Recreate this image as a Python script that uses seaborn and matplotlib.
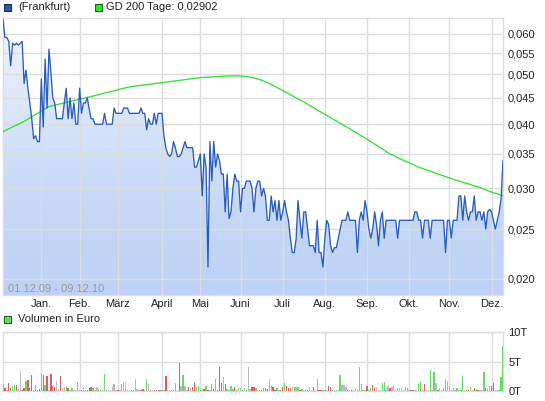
import numpy as np
import pandas as pd
import matplotlib
matplotlib.use("Agg")
import matplotlib.pyplot as plt
from matplotlib.colors import LinearSegmentedColormap
from matplotlib.patches import Rectangle
from matplotlib.ticker import FixedLocator, FuncFormatter, NullLocator
import seaborn as sns

# Handelstage 01.12.09 - 09.12.10 (Frankfurt, ohne Feiertage)
holidays = ["2009-12-24", "2009-12-25", "2009-12-31", "2010-01-01",
            "2010-04-02", "2010-04-05"]

# Schlusskurse (EUR), ein Wert je Handelstag
price = [
    0.064, 0.059, 0.059, 0.058, 0.052, 0.0575, 0.057, 0.0575, 0.057, 0.0575,
    0.058, 0.048, 0.051, 0.047, 0.044, 0.041, 0.0375, 0.038, 0.037, 0.037,
    0.049, 0.0395, 0.0536, 0.043, 0.056, 0.0505, 0.045, 0.044, 0.041, 0.041,
    0.041, 0.041, 0.044, 0.047, 0.041, 0.045, 0.041, 0.044, 0.040, 0.040,
    0.047, 0.042, 0.044, 0.044, 0.045, 0.0428, 0.041, 0.041, 0.040, 0.040,
    0.040, 0.040, 0.040, 0.042, 0.040, 0.040, 0.040, 0.040, 0.043, 0.042,
    0.042, 0.042, 0.042, 0.043, 0.043, 0.043, 0.042, 0.042, 0.042, 0.042,
    0.042, 0.042, 0.043, 0.042, 0.042, 0.039, 0.041, 0.040, 0.040, 0.042,
    0.040, 0.042, 0.042, 0.042, 0.038, 0.036, 0.035, 0.0346, 0.035, 0.037,
    0.036, 0.0346, 0.0346, 0.035, 0.036, 0.037, 0.036, 0.036, 0.036, 0.036,
    0.033, 0.033, 0.034, 0.035, 0.029, 0.035, 0.033, 0.0211, 0.037, 0.031,
    0.037, 0.033, 0.035, 0.034, 0.032, 0.032, 0.027, 0.032, 0.0262, 0.027,
    0.030, 0.032, 0.031, 0.031, 0.027, 0.030, 0.030, 0.031, 0.031, 0.031,
    0.030, 0.027, 0.030, 0.031, 0.031, 0.029, 0.030, 0.029, 0.026, 0.026,
    0.029, 0.027, 0.0284, 0.026, 0.0284, 0.026, 0.027, 0.0284, 0.027, 0.026,
    0.024, 0.0225, 0.0225, 0.0239, 0.0284, 0.026, 0.024, 0.027, 0.027, 0.025,
    0.0232, 0.0232, 0.0232, 0.0225, 0.026, 0.0225, 0.0225, 0.0211, 0.024, 0.026,
    0.0255, 0.0232, 0.0225, 0.023, 0.023, 0.024, 0.025, 0.026, 0.026, 0.026,
    0.027, 0.026, 0.026, 0.026, 0.026, 0.0225, 0.026, 0.027, 0.026, 0.0284,
    0.027, 0.025, 0.024, 0.025, 0.027, 0.0255, 0.0232, 0.026, 0.027, 0.024,
    0.026, 0.026, 0.026, 0.026, 0.026, 0.026, 0.024, 0.026, 0.026, 0.026,
    0.026, 0.026, 0.026, 0.026, 0.026, 0.027, 0.027, 0.026, 0.026, 0.024,
    0.026, 0.026, 0.026, 0.024, 0.026, 0.026, 0.026, 0.026, 0.026, 0.026,
    0.026, 0.0225, 0.026, 0.026, 0.024, 0.026, 0.026, 0.026, 0.029, 0.029,
    0.026, 0.029, 0.027, 0.026, 0.027, 0.027, 0.029, 0.026, 0.027, 0.027,
    0.026, 0.027, 0.025, 0.027, 0.0273, 0.027, 0.026, 0.025, 0.026, 0.027,
    0.0286, 0.034,
]

gd_day = [0, 11, 24, 45, 66, 85, 103, 115, 122, 128, 134, 140, 148, 158,
          168, 181, 188, 196, 201, 207, 217, 228, 238, 248, 254, 261]
gd_value = [0.0387, 0.0405, 0.0433, 0.0452, 0.0473, 0.0483, 0.0493, 0.0496,
            0.0497, 0.0495, 0.0489, 0.0478, 0.0461, 0.0440, 0.0418, 0.0392,
            0.0378, 0.0362, 0.0352, 0.0343, 0.0330, 0.0319, 0.0310, 0.0302,
            0.0296, 0.02902]

# Volumen in Tausend Euro, Richtung: g = steigend, r = fallend, n = unverändert
volume = [
    1.2, 0.45, 0.2, 1.3, 0.45, 0.85, 1.0, 1.0, 0.3, 3.4,
    0.2, 0.5, 1.7, 1.9, 0.5, 2.7, 0.2, 1.0, 0.1, 0.3,
    2.9, 2.7, 1.0, 2.5, 0.1, 2.9, 0.85, 0.7, 1.7, 0.3,
    2.5, 0.45, 0.6, 0.85, 0.45, 0.2, 0.45, 0.1, 0.1, 1.5,
    0.1, 0.1, 0.7, 0.2, 0.25, 0.45, 0.7, 0.55, 0.2, 0.6,
    0.3, 0.2, 0.1, 2.9, 0.2, 0.2, 0.1, 0.7, 1.2, 0.1,
    0.1, 0.2, 1.2, 1.5, 1.6, 0.2, 0.2, 0.1, 0.1, 2.1,
    0.3, 0.2, 0.1, 0.4, 0.2, 2.1, 1.2, 0.25, 0.2, 0.2,
    0.2, 0.1, 0.2, 0.1, 0.1, 2.5, 0.1, 0.1, 0.1, 0.1,
    1.4, 0.1, 4.8, 0.85, 2.7, 0.85, 0.1, 0.7, 0.5, 0.7,
    1.6, 0.7, 0.85, 0.1, 0.2, 0.35, 0.85, 0.2, 0.1, 1.2,
    0.35, 2.0, 0.1, 4.1, 1.4, 2.3, 1.2, 0.35, 0.1, 0.85,
    0.35, 0.6, 0.1, 0.5, 0.5, 0.25, 0.5, 0.1, 4.1, 0.3,
    0.65, 0.65, 0.45, 0.1, 0.1, 0.25, 0.45, 0.45, 0.35, 2.0,
    0.85, 0.6, 0.25, 0.5, 0.1, 0.25, 0.7, 1.4, 0.9, 0.45,
    0.45, 0.65, 0.65, 0.65, 0.65, 0.2, 0.35, 0.2, 0.35, 0.1,
    0.65, 0.1, 0.65, 0.1, 2.0, 0.2, 0.2, 0.1, 0.2, 0.2,
    0.85, 0.65, 0.2, 0.25, 0.2, 0.1, 2.7, 1.0, 1.0, 0.6,
    0.1, 0.1, 0.1, 0.25, 0.5, 0.1, 4.0, 1.2, 0.1, 0.1,
    0.85, 0.1, 0.45, 1.0, 0.45, 0.7, 0.1, 0.1, 1.4, 1.5,
    0.25, 0.9, 0.45, 0.6, 1.0, 0.1, 0.5, 0.5, 0.5, 0.1,
    0.65, 0.5, 0.1, 0.1, 0.2, 0.1, 0.1, 1.2, 1.6, 0.1,
    1.2, 0.1, 0.1, 3.6, 0.1, 3.2, 1.4, 0.1, 0.45, 0.1,
    0.45, 2.0, 1.75, 0.85, 0.1, 0.45, 0.25, 0.45, 0.1, 0.1,
    2.5, 0.1, 0.2, 0.25, 0.7, 0.25, 0.55, 0.35, 0.25, 0.1,
    0.1, 3.3, 0.45, 0.35, 0.85, 0.9, 1.4, 0.1, 0.25, 0.1,
    2.4, 7.7,
]
direction = list(
    "grnrrggrnn" "grgrrrngrr" "grgrnrrrnn" "rnngrngnng"
    "nrngrrrgnn" "grngnnnnnn" "rngnnnnrnn" "nnrrngnrnr"
    "rnrgnrnnng" "gnrngnnrnr" "rggrgrgrng" "rgnrrnrgng"
    "grngnrngnn" "rrgnnrgrrn" "grrgnrrgrr" "rngngrgnnr"
    "nnrngrrngn" "rrgngngnnn" "rnrnnngggn" "rngrrnnngg"
    "nnrnnnnnnn" "nnnrrnnggr" "rnngngnrnn" "ggnnnnngng"
    "gnrrgnrgrn" "ngrgnrrngg" "gg"
)

months = ["Jan.", "Feb.", "März", "April", "Mai", "Juni", "Juli", "Aug.",
          "Sep.", "Okt.", "Nov.", "Dez."]

days = pd.bdate_range("2009-12-01", "2010-12-09")
days = days[~days.isin(pd.to_datetime(holidays))]
n = min(len(days), len(price))
days = days[:n]
x = np.arange(n)
price = np.array(price[:n])

# Erster Handelstag jedes Monats 2010
month_pos = [int(np.argmax((days.year == 2010) & (days.month == m)))
             for m in range(1, 13)]

sns.set_style("white")
plt.rcParams["font.family"] = ["Liberation Sans", "DejaVu Sans"]
text_col = "#222222"
grid_col = "#dcdcdc"
fs = 8

fig = plt.figure(figsize=(5.45, 4.01), dpi=100)
W, H = 545, 401

# --- Kurs-Chart ---
ax = fig.add_axes([3 / W, 1 - 295 / H, 500 / W, 277 / H])
ylo, yhi = 0.0186, 0.0644
ax.set_yscale("log")
ax.set_xlim(0, n - 1)
ax.set_ylim(ylo, yhi)

# Verlaufsfüllung unter der Kurslinie
cmap = LinearSegmentedColormap.from_list("fill", ["#f5f8fe", "#bcd1f5"])
grad = np.linspace(0, 1, 256).reshape(-1, 1)
im = ax.imshow(grad, extent=(0, n - 1, ylo, yhi), aspect="auto", cmap=cmap,
               origin="upper", zorder=1, interpolation="bilinear")
poly = ax.fill_between(x, price, ylo, color="none", lw=0)
im.set_clip_path(poly.get_paths()[0], transform=ax.transData)
ax.set_xlim(0, n - 1)
ax.set_ylim(ylo, yhi)

sns.lineplot(x=x, y=price, ax=ax, color="#2a5cbc", lw=0.95, zorder=4)
sns.lineplot(x=gd_day, y=gd_value, ax=ax, color="#33e033", lw=0.95, zorder=3)

yt = [0.020, 0.025, 0.030, 0.035, 0.040, 0.045, 0.050, 0.055, 0.060]
ax.yaxis.set_major_locator(FixedLocator(yt))
ax.yaxis.set_minor_locator(NullLocator())
ax.yaxis.set_major_formatter(FuncFormatter(lambda v, p: f"{v:.3f}".replace(".", ",")))
ax.yaxis.tick_right()
ax.xaxis.set_major_locator(FixedLocator(month_pos))
ax.set_xticklabels(months)
ax.tick_params(axis="both", length=0, labelsize=fs, colors=text_col)
ax.tick_params(axis="y", pad=3.5)
ax.tick_params(axis="x", pad=3)
ax.grid(True, color=grid_col, lw=1, zorder=2)
ax.set_axisbelow(False)
for g in ax.get_xgridlines() + ax.get_ygridlines():
    g.set_zorder(2)
for s in ax.spines.values():
    s.set_color(grid_col)
    s.set_linewidth(1)
ax.set_xlabel("")
ax.set_ylabel("")
ax.text(0.01, 0.004, "01.12.09 - 09.12.10", color="#9a9a9a", fontsize=fs,
        ha="left", va="bottom", zorder=5, transform=ax.transAxes)

# --- Legende oben ---
fig.patches.append(Rectangle((4 / W, 1 - 11 / H), 7 / W, 7 / H, transform=fig.transFigure,
                             facecolor="#2358b8", edgecolor="#1a2a55", lw=0.8))
fig.text(18 / W, 1 - 7.5 / H, "(Frankfurt)", fontsize=fs, color=text_col, va="center")
fig.patches.append(Rectangle((95 / W, 1 - 11 / H), 7 / W, 7 / H, transform=fig.transFigure,
                             facecolor="#22ee22", edgecolor="#116611", lw=0.8))
fig.text(106 / W, 1 - 7.5 / H, "GD 200 Tage: 0,02902", fontsize=fs, color=text_col,
         va="center")

# --- Volumen ---
vx = fig.add_axes([3 / W, 1 - 391 / H, 500 / W, 59 / H])
colors = {"g": "#66dd66", "r": "#dd5f5f", "n": "#bbbbbb"}
vx.bar(x, volume[:n], width=0.7, color=[colors[d] for d in direction[:n]],
       edgecolor="none", linewidth=0, antialiased=False, zorder=3)
vx.set_xlim(0, n - 1)
vx.set_ylim(0, 10)
vx.xaxis.set_major_locator(FixedLocator(month_pos))
vx.set_xticklabels([])
vx.yaxis.set_major_locator(FixedLocator([0, 5, 10]))
vx.set_yticklabels(["0T", "5T", "10T"])
vx.yaxis.tick_right()
vx.tick_params(axis="both", length=0, labelsize=fs, colors=text_col)
vx.tick_params(axis="y", pad=4)
vx.grid(True, color=grid_col, lw=1, zorder=0)
vx.set_axisbelow(True)
for s in vx.spines.values():
    s.set_color(grid_col)
    s.set_linewidth(1)

fig.patches.append(Rectangle((4 / W, 1 - 323 / H), 7 / W, 7 / H, transform=fig.transFigure,
                             facecolor="#66dd66", edgecolor="#225522", lw=0.8))
fig.text(18 / W, 1 - 319.5 / H, "Volumen in Euro", fontsize=fs, color=text_col,
         va="center")

fig.savefig("out.png", dpi=100)
